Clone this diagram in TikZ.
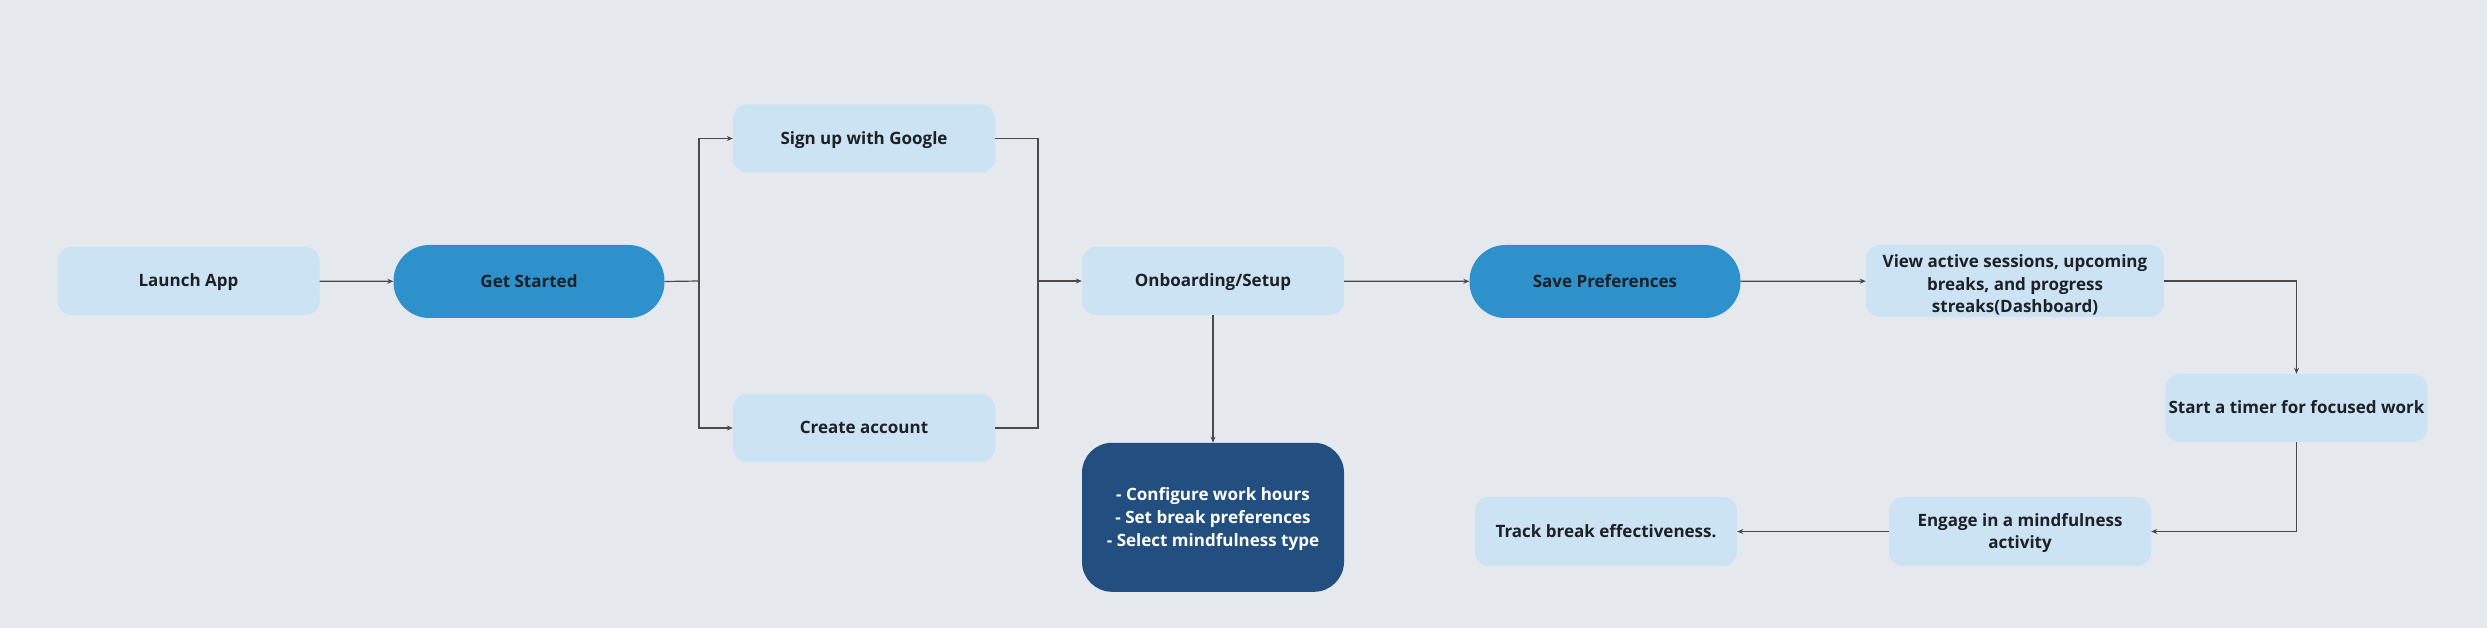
\documentclass[tikz,border=0pt]{standalone}
\usepackage{fontspec}
\setmainfont{Open Sans}
\usetikzlibrary{arrows.meta}
\definecolor{bg}{HTML}{E5E9EE}
\definecolor{lightbox}{HTML}{CBE3F3}
\definecolor{midblue}{HTML}{2E91CC}
\definecolor{darkblue}{HTML}{224E80}
\definecolor{txt}{HTML}{1D2126}
\definecolor{conn}{HTML}{4A4A4A}
\newcommand{\mytopstrut}[1]{\rule{0pt}{#1}}
\tikzset{
  base/.style={inner sep=0pt, align=center, font=\bfseries\fontsize{17}{22.8}\selectfont, text=txt},
  oneline/.style={text height=11.6pt, text depth=0pt},
  lightnode/.style={base, fill=lightbox, rounded corners=14pt, minimum width=262pt, minimum height=68pt},
  pillnode/.style={base, oneline, fill=midblue, rounded corners=36pt, minimum width=271pt, minimum height=73pt},
  darknode/.style={base, fill=darkblue, text=white, rounded corners=30pt, minimum width=262pt, minimum height=149pt},
  conn/.style={draw=conn, line width=1.2pt, -{Stealth[length=6pt,width=5pt]}},
  connplain/.style={draw=conn, line width=1.2pt},
}
\begin{document}
\begin{tikzpicture}[x=1pt,y=-1pt]
\useasboundingbox[fill=bg] (0,0) rectangle (2487,628);
\node[lightnode, oneline] (launch) at (188.5,281) {Launch App};
\node[pillnode] (get) at (529,281.5) {Get Started};
\node[lightnode, oneline] (google) at (864,138.5) {Sign up with Google};
\node[lightnode, oneline] (create) at (864,428) {Create account};
\node[lightnode, oneline] (onb) at (1213,281) {Onboarding/Setup};
\node[darknode] (config) at (1213,517.3) {\mytopstrut{16.2pt}- Configure work hours\\- Set break preferences\\- Select mindfulness type};
\node[pillnode] (save) at (1605,281.5) {Save Preferences};
\node[lightnode, minimum width=298pt, minimum height=72pt] (view) at (2015,281) {\mytopstrut{21pt}View active sessions, upcoming\\breaks, and progress\\streaks(Dashboard)};
\node[lightnode, oneline] (timer) at (2296.5,408) {Start a timer for focused work};
\node[lightnode, minimum height=69pt] (engage) at (2020,531.5) {\mytopstrut{16.2pt}Engage in a mindfulness\\activity};
\node[lightnode, oneline, minimum height=69pt] (track) at (1606,531.5) {Track break effectiveness.};
\coordinate (split) at (699,281);
\coordinate (merge) at (1038,281);
\draw[conn] (launch) -- (get);
\draw[connplain] (get.east) -- (split);
\draw[conn] (split) |- (google.west);
\draw[conn] (split) |- (create.west);
\draw[connplain] (google.east) -| (merge);
\draw[connplain] (create.east) -| (merge);
\draw[conn] (merge) -- (onb.west);
\draw[conn] (onb) -- (config);
\draw[conn] (onb) -- (save);
\draw[conn] (save) -- (view);
\draw[conn] (view.east) -| (timer.north);
\draw[conn] (timer.south) |- (engage.east);
\draw[conn] (engage) -- (track);
\end{tikzpicture}
\end{document}
